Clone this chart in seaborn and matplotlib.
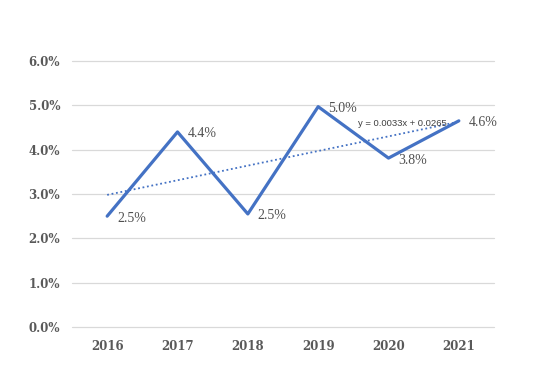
import matplotlib
matplotlib.use("Agg")
import matplotlib.pyplot as plt
import seaborn as sns
import numpy as np
import pandas as pd
from matplotlib.ticker import FuncFormatter

years = ["2016", "2017", "2018", "2019", "2020", "2021"]
rates = [0.0250, 0.0440, 0.0255, 0.0497, 0.0381, 0.0465]
labels = ["2.5%", "4.4%", "2.5%", "5.0%", "3.8%", "4.6%"]
slope = 0.0033
intercept = 0.0265
equation = "y = 0.0033x + 0.0265"
yticks = [0, 0.01, 0.02, 0.03, 0.04, 0.05, 0.06]

df = pd.DataFrame({"year": years, "rate": rates, "idx": np.arange(len(years))})
trend = intercept + slope * (df["idx"] + 1)

sns.set_theme(style="white")
fig = plt.figure(figsize=(5.33, 3.81), dpi=100)
ax = fig.add_axes([72/533, 54/381, (494-72)/533, (327-61)/381])

color = "#4472C4"
sns.lineplot(x=df["idx"], y=trend, ax=ax, color=color, linewidth=1.3,
             linestyle=(0, (1, 1.5)))
sns.lineplot(data=df, x="idx", y="rate", ax=ax, color=color, linewidth=2.3)

for i, (v, t) in enumerate(zip(rates, labels)):
    ax.annotate(t, (i, v), xytext=(10, -2), textcoords="offset pixels",
                ha="left", va="center", fontsize=10, color="#505050",
                family="Liberation Serif")

ax.text(3.57, 0.0460, equation, fontsize=6.8, color="#404040",
        family="Liberation Sans", ha="left", va="center")

ax.set_xlim(-0.5, len(years) - 0.5)
ax.set_ylim(0, 0.06)
ax.set_xticks(range(len(years)))
ax.set_xticklabels(years)
ax.set_yticks(yticks)
ax.yaxis.set_major_formatter(FuncFormatter(lambda v, p: f"{v*100:.1f}%"))
ax.grid(axis="y", color="#d9d9d9", linewidth=0.9)
for gl in ax.yaxis.get_gridlines():
    gl.set_clip_on(False)
ax.set_axisbelow(True)
for s in ax.spines.values():
    s.set_visible(False)
ax.tick_params(axis="both", length=0, colors="#595959")
ax.tick_params(axis="y", pad=8.5)
ax.tick_params(axis="x", pad=9.5)
for lab in ax.get_xticklabels() + ax.get_yticklabels():
    lab.set_family("DejaVu Serif")
    lab.set_fontweight("bold")
    lab.set_fontsize(8.5)
ax.set_xlabel("")
ax.set_ylabel("")

fig.savefig("out.png", dpi=100)
